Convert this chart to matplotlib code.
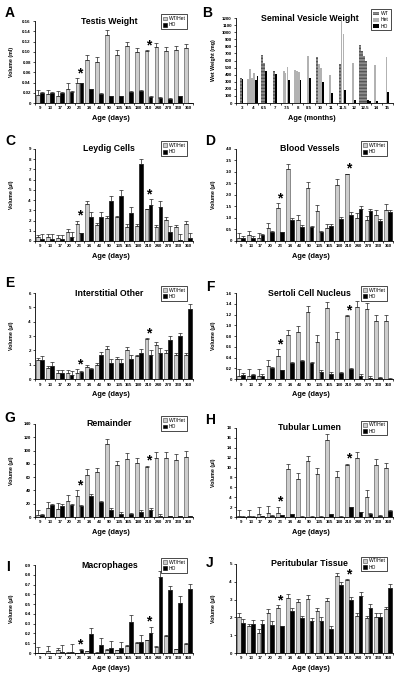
import numpy as np
import matplotlib.pyplot as plt

plt.rcParams['font.family'] = ['Liberation Sans', 'DejaVu Sans']

ages = ['9', '13', '17', '20', '23', '34', '43', '90', '135', '165', '180', '210', '240', '270', '330', '360']
star_idx = [4, 11]

# A testis weight (ml)
testis_wt = [0.016, 0.017, 0.013, 0.028, 0.040, 0.084, 0.081, 0.133, 0.094, 0.111, 0.100, 0.102, 0.109, 0.101, 0.103, 0.107]
testis_wt_err = [0.010, 0.008, 0.010, 0.012, 0.008, 0.010, 0.009, 0.009, 0.009, 0.008, 0.008, 0.001, 0.008, 0.008, 0.008, 0.008]
testis_ho = [0.020, 0.020, 0.020, 0.022, 0.039, 0.027, 0.018, 0.013, 0.013, 0.022, 0.024, 0.012, 0.010, 0.008, 0.013, 0.0]
testis_ho_err = [0.001] * 16

# C leydig cells
leydig_wt = [0.35, 0.4, 0.3, 0.85, 1.7, 3.65, 1.6, 2.25, 2.3, 1.35, 1.45, 3.1, 1.35, 2.05, 1.35, 1.7]
leydig_wt_err = [0.25, 0.3, 0.3, 0.3, 0.3, 0.25, 0.15, 0.2, 0.15, 0.3, 0.2, 0.05, 0.2, 0.3, 0.2, 0.3]
leydig_ho = [0.2, 0.15, 0.15, 0.35, 0.8, 2.3, 2.3, 3.95, 4.45, 2.75, 7.5, 3.55, 3.35, 0.9, 0.1, 0.3]
leydig_ho_err = [0.45, 0.5, 0.4, 0.5, 0.02, 0.5, 0.5, 0.5, 0.55, 0.55, 0.5, 0.55, 0.55, 0.55, 0.6, 0.5]

# D blood vessels
blood_wt = [0.15, 0.25, 0.15, 0.55, 1.45, 3.15, 0.9, 2.3, 1.3, 0.55, 2.45, 2.9, 1.0, 0.9, 1.15, 1.35]
blood_wt_err = [0.2, 0.2, 0.2, 0.25, 0.2, 0.2, 0.25, 0.25, 0.25, 0.2, 0.25, 0.03, 0.2, 0.2, 0.2, 0.25]
blood_ho = [0.15, 0.15, 0.25, 0.4, 0.4, 0.9, 0.6, 0.6, 0.4, 0.65, 0.95, 1.15, 1.4, 1.3, 0.85, 1.25]
blood_ho_err = [0.05, 0.05, 0.05, 0.05, 0.01, 0.1, 0.1, 0.05, 0.05, 0.1, 0.1, 0.1, 0.1, 0.1, 0.1, 0.1]

# E interstitial other
inter_wt = [1.3, 0.8, 0.45, 0.45, 0.45, 0.85, 1.0, 2.1, 1.4, 2.05, 1.6, 2.8, 2.4, 1.85, 1.7, 1.7]
inter_wt_err = [0.15, 0.1, 0.15, 0.15, 0.25, 0.1, 0.1, 0.2, 0.15, 0.15, 0.1, 0.05, 0.2, 0.2, 0.1, 0.1]
inter_ho = [1.3, 0.9, 0.45, 0.3, 0.5, 0.7, 1.7, 1.1, 1.1, 1.4, 1.85, 1.7, 1.85, 2.7, 3.0, 4.9]
inter_ho_err = [0.3, 0.3, 0.2, 0.25, 0.05, 0.1, 0.2, 0.3, 0.3, 0.3, 0.25, 0.3, 0.3, 0.3, 0.2, 0.3]

# F sertoli cell nucleus
sertoli_wt = [0.06, 0.06, 0.06, 0.24, 0.42, 0.81, 0.87, 1.24, 0.69, 1.32, 0.75, 1.18, 1.34, 1.30, 1.08, 1.08]
sertoli_wt_err = [0.12, 0.12, 0.12, 0.12, 0.13, 0.1, 0.12, 0.12, 0.12, 0.12, 0.12, 0.01, 0.12, 0.12, 0.12, 0.12]
sertoli_ho = [0.08, 0.08, 0.06, 0.2, 0.16, 0.3, 0.33, 0.3, 0.14, 0.1, 0.12, 0.18, 0.06, 0.02, 0.01, 0.005]
sertoli_ho_err = [0.03, 0.02, 0.03, 0.02, 0.005, 0.02, 0.02, 0.02, 0.03, 0.04, 0.02, 0.02, 0.03, 0.03, 0.03, 0.005]

# G remainder
remain_wt = [3, 14, 12, 24, 31, 63, 67, 110, 78, 87, 82, 76, 89, 89, 86, 91]
remain_wt_err = [7, 8, 9, 9, 9, 9, 7, 8, 7, 9, 7, 1, 9, 9, 9, 9]
remain_ho = [3, 18, 17, 18, 17, 31, 22, 11, 5, 4, 7, 11, 2, 1, 1, 1]
remain_ho_err = [1, 2, 3, 2, 0.5, 3, 2, 2, 2, 2, 3, 3, 2, 1, 1, 1]

# H tubular lumen
lumen_wt = [0.15, 0.15, 0.7, 0.9, 0.9, 9.7, 7.6, 11.3, 8.6, 15.5, 8.1, 10.6, 12.0, 4.1, 10.6, 9.9]
lumen_wt_err = [1.3, 1.3, 1.3, 1.3, 1.2, 1.1, 1.3, 1.1, 1.3, 1.3, 1.3, 0.2, 1.1, 1.4, 1.1, 1.1]
lumen_ho = [0.1, 0.1, 0.2, 0.3, 0.4, 0.6, 0.1, 0.1, 0.1, 0.6, 0.1, 2.0, 1.0, 0.7, 0.3, 1.3]
lumen_ho_err = [0.05] * 16

# I macrophages
macro_wt = [0.005, 0.02, 0.03, 0.005, 0.0, 0.02, 0.005, 0.03, 0.03, 0.07, 0.1, 0.13, 0.06, 0.17, 0.04, 0.09]
macro_wt_err = [0.06, 0.05, 0.02, 0.002, 0.002, 0.002, 0.002, 0.01, 0.002, 0.01, 0.01, 0.002, 0.01, 0.01, 0.002, 0.01]
macro_ho = [0.0, 0.0, 0.01, 0.015, 0.03, 0.19, 0.08, 0.05, 0.05, 0.32, 0.11, 0.2, 0.78, 0.64, 0.51, 0.65]
macro_ho_err = [0.002, 0.002, 0.07, 0.08, 0.01, 0.07, 0.07, 0.07, 0.06, 0.07, 0.07, 0.07, 0.06, 0.05, 0.07, 0.06]

# J peritubular tissue
peri_wt = [2.05, 1.5, 1.15, 2.25, 2.5, 3.1, 2.85, 3.05, 2.35, 2.9, 4.35, 4.1, 2.1, 1.95, 2.05, 2.45]
peri_wt_err = [0.2, 0.15, 0.2, 0.2, 0.2, 0.2, 0.2, 0.2, 0.15, 0.2, 0.15, 0.05, 0.15, 0.15, 0.2, 0.15]
peri_ho = [1.7, 1.65, 1.65, 1.6, 1.5, 2.35, 1.95, 1.8, 1.8, 1.35, 3.8, 3.0, 3.2, 2.55, 2.05, 3.65]
peri_ho_err = [0.2, 0.2, 0.2, 0.2, 0.01, 0.15, 0.15, 0.15, 0.2, 0.15, 0.2, 0.15, 0.2, 0.2, 0.2, 0.2]

# B seminal vesicle weight (mg), individual animals
sv_months = ['3', '4', '6.5', '7', '7.5', '8', '8.5', '10', '11', '11.5', '12', '12.5', '14', '15']
sv_wt = [[360], [], [675, 565], [450], [], [], [], [650], [], [550], [], [815, 740, 670, 600], [], []]
sv_het = [[], [340, 480, 350, 430], [], [], [455, 420, 510], [465, 455, 435], [660], [550, 490], [395], [1155, 975], [565], [], [540], [655]]
sv_ho = [[345], [330, 385], [447], [410], [325], [325], [360], [290], [145], [180], [45], [45, 30], [35], [155]]

WT_COLOR = '#cdcdcd'
HET_COLOR = '#b2b2b2'
SV_WT_COLOR = '#8c8c8c'


def style_axis(ax, yticks, fmt):
    for s in ['top', 'right']:
        ax.spines[s].set_visible(False)
    for s in ['left', 'bottom']:
        ax.spines[s].set_linewidth(0.6)
    ax.set_yticks(yticks)
    ax.set_yticklabels(['0' if v == 0 else fmt.format(v) for v in yticks])
    ax.set_ylim(0, yticks[-1])
    ax.tick_params(axis='y', labelsize=3.2, length=1.5, width=0.5, pad=1.5)
    ax.tick_params(axis='x', labelsize=3.2, length=0, pad=2.5)
    ax.tick_params(axis='x', which='minor', length=1.5, width=0.5)
    for lab in ax.get_yticklabels() + ax.get_xticklabels():
        lab.set_fontweight('bold')


def boxed_legend(ax, handles, labels, anchor, hl):
    leg = ax.legend(handles, labels, loc='upper right', bbox_to_anchor=anchor, fontsize=3.6,
                    handlelength=hl, handleheight=0.8, handletextpad=0.4,
                    borderpad=0.35, labelspacing=0.25, fancybox=False, framealpha=1)
    leg.get_frame().set_edgecolor('black')
    leg.get_frame().set_linewidth(0.5)


def panel(rect, letter, letter_xy, title, wt, wt_err, ho, ho_err, ylabel, yticks, fmt):
    ax = fig.add_axes(rect)
    x = np.arange(len(ages))
    z = np.zeros(len(ages))
    ekw = dict(elinewidth=0.5, capsize=1.2, capthick=0.5, ecolor='#222222')
    b1 = ax.bar(x - 0.2, wt, 0.38, color=WT_COLOR, edgecolor='#444444', linewidth=0.4,
                yerr=[z, wt_err], error_kw=ekw)
    b2 = ax.bar(x + 0.2, ho, 0.38, color='black', edgecolor='black', linewidth=0.4,
                yerr=[z, ho_err], error_kw=ekw)
    for i in star_idx:
        top = max(wt[i] + wt_err[i], ho[i] + ho_err[i])
        ax.annotate('*', (i, top), xytext=(0, -1.5), textcoords='offset points',
                    ha='center', va='bottom', fontsize=10, fontweight='bold')
    ax.set_xlim(-0.5, len(ages) - 0.5)
    ax.set_xticks(x)
    ax.set_xticklabels(ages)
    ax.set_xticks(np.arange(len(ages) + 1) - 0.5, minor=True)
    style_axis(ax, yticks, fmt)
    finish(ax, rect, letter, letter_xy, title, ylabel, 'Age (days)')
    boxed_legend(ax, [b1.patches[0], b2.patches[0]], ['WT/Het', 'HO'], (0.98, 1.11), 0.8)
    return ax


def finish(ax, rect, letter, letter_xy, title, ylabel, xlabel):
    h_px = rect[3] * 680
    ax.text(0.47, 1.0, title, transform=ax.transAxes, ha='center', va='center',
            fontsize=6.3, fontweight='bold')
    ax.set_ylabel(ylabel, fontsize=3.8, fontweight='bold')
    ax.yaxis.set_label_coords(-0.13, 0.5)
    ax.set_xlabel(xlabel, fontsize=5.3, fontweight='bold')
    ax.xaxis.set_label_coords(0.48, -12 / h_px)
    fig.text(letter_xy[0], letter_xy[1], letter, fontsize=10, fontweight='bold',
             ha='center', va='center')


fig = plt.figure(figsize=(4, 6.8), dpi=100)

L, R = 0.0875, 0.59
W = 0.395

panel([L, 0.8485, W, 0.1206], 'A', (0.025, 0.981), 'Testis Weight',
      testis_wt, testis_wt_err, testis_ho, testis_ho_err, 'Volume (ml)',
      np.round(np.arange(0, 0.161, 0.02), 2), '{:.2f}')

# B seminal vesicle
rect_b = [R, 0.8485, 0.3925, 0.125]
axb = fig.add_axes(rect_b)
bw = 0.17
for i in range(len(sv_months)):
    vals = [(v, 'WT') for v in sv_wt[i]] + [(v, 'Het') for v in sv_het[i]] + [(v, 'HO') for v in sv_ho[i]]
    n = len(vals)
    pos = i + (np.arange(n) - (n - 1) / 2) * bw
    for p, (v, g) in zip(pos, vals):
        if g == 'WT':
            axb.bar(p, v, bw * 0.95, color=SV_WT_COLOR, edgecolor='#555555', hatch='-----', linewidth=0)
        elif g == 'Het':
            axb.bar(p, v, bw * 0.95, color=HET_COLOR, linewidth=0)
        else:
            axb.bar(p, v, bw * 0.95, color='black', linewidth=0)
axb.set_xlim(-0.5, len(sv_months) - 0.5)
axb.set_xticks(np.arange(len(sv_months)))
axb.set_xticklabels(sv_months)
axb.set_xticks(np.arange(len(sv_months) + 1) - 0.5, minor=True)
style_axis(axb, np.arange(0, 1201, 100), '{:d}')
finish(axb, rect_b, 'B', (0.5175, 0.981), 'Seminal Vesicle Weight', 'Wet Weight (mg)', 'Age (months)')
hb = [plt.Rectangle((0, 0), 1, 1, facecolor=SV_WT_COLOR, edgecolor='#555555', hatch='-----', linewidth=0),
      plt.Rectangle((0, 0), 1, 1, facecolor=HET_COLOR, linewidth=0),
      plt.Rectangle((0, 0), 1, 1, facecolor='black', linewidth=0)]
boxed_legend(axb, hb, ['WT', 'Het', 'HO'], (1.0, 1.13), 1.3)

panel([L, 0.6456, W, 0.1353], 'C', (0.025, 0.7926), 'Leydig Cells',
      leydig_wt, leydig_wt_err, leydig_ho, leydig_ho_err, 'Volume (µl)',
      np.arange(0, 10), '{:d}')
panel([R, 0.6456, 0.3925, 0.1353], 'D', (0.525, 0.7926), 'Blood Vessels',
      blood_wt, blood_wt_err, blood_ho, blood_ho_err, 'Volume (µl)',
      np.arange(0, 4.01, 0.5), '{:.1f}')
panel([L, 0.4426, W, 0.1265], 'E', (0.025, 0.584), 'Interstitial Other',
      inter_wt, inter_wt_err, inter_ho, inter_ho_err, 'Volume (µl)',
      np.arange(0, 7), '{:d}')
panel([R, 0.4426, 0.3925, 0.1265], 'F', (0.525, 0.578), 'Sertoli Cell Nucleus',
      sertoli_wt, sertoli_wt_err, sertoli_ho, sertoli_ho_err, 'Volume (µl)',
      np.round(np.arange(0, 1.61, 0.2), 1), '{:.1f}')
panel([L, 0.2397, W, 0.1368], 'G', (0.025, 0.385), 'Remainder',
      remain_wt, remain_wt_err, remain_ho, remain_ho_err, 'Volume (µl)',
      np.arange(0, 141, 20), '{:d}')
panel([R, 0.2397, 0.3925, 0.1309], 'H', (0.525, 0.382), 'Tubular Lumen',
      lumen_wt, lumen_wt_err, lumen_ho, lumen_ho_err, 'Volume (µl)',
      np.arange(0, 19, 2), '{:d}')
panel([L, 0.0397, W, 0.1294], 'I', (0.02, 0.166), 'Macrophages',
      macro_wt, macro_wt_err, macro_ho, macro_ho_err, 'Volume (µl)',
      np.round(np.arange(0, 0.91, 0.1), 1), '{:.1f}')
panel([R, 0.0397, 0.3925, 0.1309], 'J', (0.525, 0.172), 'Peritubular Tissue',
      peri_wt, peri_wt_err, peri_ho, peri_ho_err, 'Volume (µl)',
      np.arange(0, 6), '{:d}')

fig.savefig('out.png', dpi=100)
